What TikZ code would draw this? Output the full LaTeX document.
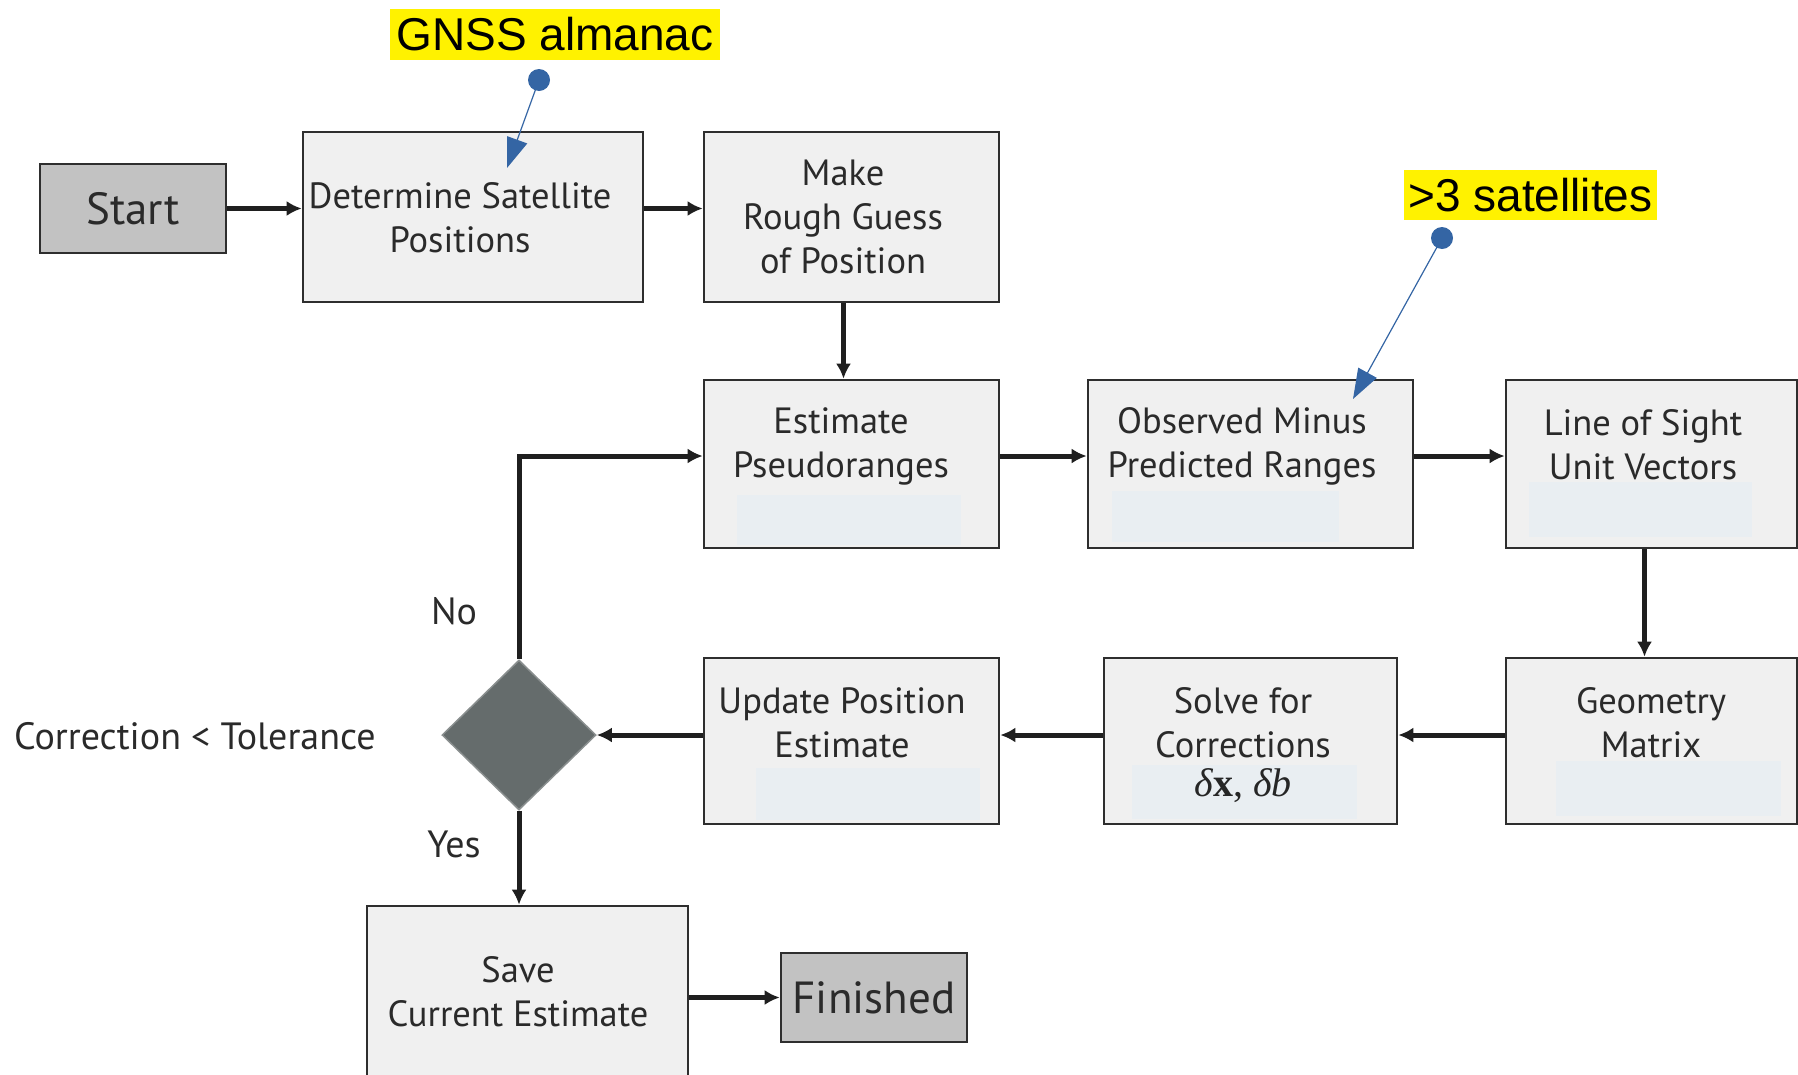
\documentclass[tikz,border=0pt]{standalone}
\usepackage{fontspec}
\setmainfont{PT Sans}
\newfontfamily\calloutfont{Liberation Sans}
\newfontfamily\mathserif{Liberation Serif}
\usetikzlibrary{arrows.meta,shapes.geometric}

\definecolor{boxfill}{HTML}{F0F0F0}
\definecolor{boxline}{HTML}{2E2E2E}
\definecolor{termfill}{HTML}{C2C2C2}
\definecolor{decfill}{HTML}{656C6C}
\definecolor{decline}{HTML}{8A8F8F}
\definecolor{palefill}{HTML}{E9EEF2}
\definecolor{markyellow}{HTML}{FFF200}
\definecolor{noteblue}{HTML}{3465A4}
\definecolor{txtgray}{HTML}{2A2A2A}

\tikzset{
  procbox/.style={draw=boxline, line width=2.6pt, fill=boxfill, rectangle, inner sep=0pt},
  termbox/.style={draw=boxline, line width=2.6pt, fill=termfill, rectangle, inner sep=0pt,
    text=txtgray, font=\fontsize{45}{50}\selectfont},
  decbox/.style={draw=decline, line width=1.5pt, fill=decfill, diamond, inner sep=0pt,
    minimum width=154pt, minimum height=150pt},
  boxtext/.style={align=center, text=txtgray, font=\fontsize{36.5}{44}\selectfont, inner sep=0pt},
  sidetext/.style={text=txtgray, font=\fontsize{38}{44}\selectfont, inner sep=0pt},
  callout/.style={fill=markyellow, inner sep=0pt, font=\calloutfont\fontsize{46}{50}\selectfont},
  flow/.style={line width=5pt, draw=black!88, -{Latex[length=15pt,width=15pt]}},
  note/.style={draw=noteblue, line width=1.2pt, -{Triangle[length=30pt,width=21pt]}, color=noteblue},
  notedot/.style={circle, fill=noteblue, minimum size=22pt, inner sep=0pt},
}

\begin{document}
\begin{tikzpicture}[x=1pt, y=-1pt]
\useasboundingbox (0,0) rectangle (1798,1074);

% ---- process boxes (centre, size in px) ----
\node[termbox, minimum width=186pt, minimum height=89pt] (start) at (133,208.5) {Start};
\node[procbox, minimum width=340pt, minimum height=170pt] (detsat) at (473,217) {};
\node[procbox, minimum width=295pt, minimum height=170pt] (guess) at (851.5,217) {};
\node[procbox, minimum width=295pt, minimum height=168pt] (pseudo) at (851.5,464) {};
\node[procbox, minimum width=325pt, minimum height=168pt] (omp) at (1250.5,464) {};
\node[procbox, minimum width=291pt, minimum height=168pt] (los) at (1651.5,464) {};
\node[procbox, minimum width=291pt, minimum height=166pt] (geom) at (1651.5,741) {};
\node[procbox, minimum width=293pt, minimum height=166pt] (solve) at (1250.5,741) {};
\node[procbox, minimum width=295pt, minimum height=166pt] (update) at (851.5,741) {};
\node[decbox] (test) at (519,735) {};
\node[procbox, minimum width=321pt, minimum height=172pt] (save) at (527.5,992) {};
\node[termbox, minimum width=186pt, minimum height=89pt] (finish) at (874,997.5) {Finished};

% ---- faint panels in the lower half of some boxes ----
\fill[palefill] (737,495) rectangle (961,545);
\fill[palefill] (1112,491) rectangle (1339,542);
\fill[palefill] (1529,482) rectangle (1752,537);
\fill[palefill] (1556,761) rectangle (1781,816);
\fill[palefill] (1132,765) rectangle (1357,819);
\fill[palefill] (756,768) rectangle (980,820);

% ---- box texts ----
\node[boxtext] (tdetsat) at (460,218) {Determine Satellite\\Positions};
\node[boxtext] (tguess) at (843,217) {Make\\Rough Guess\\of Position};
\node[boxtext] (tpseudo) at (841,446) {Estimate\\Pseudoranges};
\node[boxtext] (tomp) at (1242,446) {Observed Minus\\Predicted Ranges};
\node[boxtext] (tlos) at (1643,445) {Line of Sight\\Unit Vectors};
\node[boxtext] (tgeom) at (1651,723) {Geometry\\Matrix};
\node[boxtext] (tsolve) at (1243,723) {Solve for\\Corrections};
\node[inner sep=0pt, text=black!85, font=\mathserif\fontsize{40}{44}\selectfont] (tdelta) at (1243,786)
  {{\itshape δ}{\bfseries x}, {\itshape δb}};
\node[boxtext] (tupdate) at (842,723) {Update Position\\Estimate};
\node[boxtext] (tsave) at (518,992) {Save\\Current Estimate};

% ---- decision labels ----
\node[sidetext] (lno) at (454,611) {No};
\node[sidetext] (lyes) at (454,844) {Yes};
\node[sidetext, anchor=west] (ltol) at (14,736) {Correction < Tolerance};

% ---- flow connectors ----
\draw[flow] (start.east) -- (start.east -| detsat.west);
\draw[flow] (detsat.east |- start.east) -- (guess.west |- start.east);
\draw[flow] ([xshift=-8pt]guess.south) -- ([xshift=-8pt]pseudo.north);
\draw[flow] ([yshift=8pt]pseudo.east) -- ([yshift=8pt]pseudo.east -| omp.west);
\draw[flow] ([yshift=8pt]omp.east) -- ([yshift=8pt]omp.east -| los.west);
\draw[flow] ([xshift=-7pt]los.south) -- ([xshift=-7pt]geom.north);
\draw[flow] ([yshift=6pt]geom.west) -- ([yshift=6pt]geom.west -| solve.east);
\draw[flow] ([yshift=6pt]solve.west) -- ([yshift=6pt]solve.west -| update.east);
\draw[flow] ([yshift=6pt]update.west) -- (test.east);
\draw[flow] (test.north) |- ([yshift=8pt]pseudo.west);
\draw[flow] (test.south) -- (test.south |- save.north);
\draw[flow] (save.east |- finish.west) -- (finish.west);

% ---- callouts ----
\node[callout, minimum width=330pt, minimum height=51pt] (almanac) at (555,34.5) {GNSS almanac};
\node[callout, minimum width=253pt, minimum height=50pt] (nsat) at (1530.5,195) {>3 satellites};
\node[notedot] (adot) at (539,80) {};
\node[notedot] (sdot) at (1442,238) {};
\coordinate (atip) at (507,168);
\coordinate (stip) at (1353,399);
\draw[note] (adot.center) -- (atip);
\draw[note] (sdot.center) -- (stip);
\end{tikzpicture}
\end{document}
